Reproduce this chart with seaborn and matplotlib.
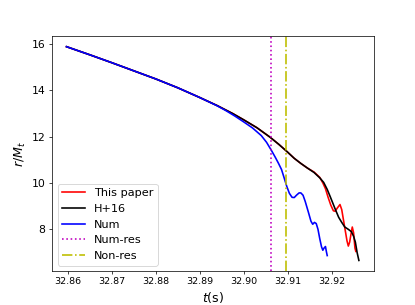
import seaborn as sns
import matplotlib.pyplot as plt

# DATA
# H+16 (black) curve
t_h16 = [32.8597, 32.8650, 32.8700, 32.8750, 32.8800, 32.8850, 32.8900, 32.8940,
         32.8975, 32.9000, 32.9030, 32.9060, 32.9080, 32.9098, 32.9115, 32.9130,
         32.9145, 32.9160, 32.9173, 32.9182, 32.9190, 32.9197, 32.9208, 32.9216,
         32.9223, 32.9230, 32.9238, 32.9245, 32.9250, 32.9254, 32.9258, 32.9262]
r_h16 = [15.87, 15.52, 15.18, 14.83, 14.48, 14.10, 13.68, 13.33,
         12.99, 12.72, 12.38, 11.97, 11.66, 11.36, 11.06, 10.84,
         10.64, 10.45, 10.22, 10.02, 9.72, 9.40, 8.88, 8.52,
         8.30, 8.10, 8.00, 7.90, 7.70, 7.45, 7.00, 6.66]

# This paper (red) - follows H+16 then wiggles
t_paper = [32.8597, 32.8650, 32.8700, 32.8750, 32.8800, 32.8850, 32.8900, 32.8940,
           32.8975, 32.9000, 32.9030, 32.9060, 32.9080, 32.9098, 32.9115, 32.9130,
           32.9145, 32.9160, 32.9173, 32.9180, 32.9186, 32.9192, 32.9198, 32.9204,
           32.9208, 32.9213, 32.9219, 32.9223, 32.9227, 32.9231, 32.9235, 32.9238,
           32.9241, 32.9245, 32.9247, 32.9250, 32.9253, 32.9255]
r_paper = [15.87, 15.52, 15.18, 14.83, 14.48, 14.10, 13.68, 13.33,
           12.99, 12.72, 12.38, 11.97, 11.66, 11.36, 11.06, 10.84,
           10.64, 10.47, 10.24, 10.00, 9.75, 9.38, 9.05, 8.80,
           8.78, 8.92, 9.07, 8.85, 8.40, 7.95, 7.50, 7.28,
           7.45, 7.90, 8.10, 7.85, 7.20, 7.05]

# Num (blue)
t_num = [32.8597, 32.8650, 32.8700, 32.8750, 32.8800, 32.8850, 32.8900, 32.8940,
         32.8960, 32.8980, 32.9000, 32.9020, 32.9040, 32.9052, 32.9064, 32.9072,
         32.9079, 32.9086, 32.9092, 32.9098, 32.9104, 32.9110, 32.9115, 32.9120,
         32.9126, 32.9130, 32.9135, 32.9140, 32.9147, 32.9153, 32.9157, 32.9161,
         32.9165, 32.9169, 32.9173, 32.9177, 32.9180, 32.9183, 32.9186, 32.9188,
         32.9190]
r_num = [15.87, 15.52, 15.18, 14.83, 14.48, 14.10, 13.68, 13.32,
         13.11, 12.88, 12.63, 12.37, 12.04, 11.75, 11.37, 11.10,
         10.85, 10.58, 10.22, 9.85, 9.55, 9.38, 9.37, 9.47,
         9.57, 9.57, 9.47, 9.20, 8.75, 8.35, 8.22, 8.30,
         8.25, 8.00, 7.60, 7.25, 7.10, 7.20, 7.26, 7.05,
         6.87]

# resonance times
t_num_res = 32.9062
t_non_res = 32.9097

# PLOT
fig, ax = plt.subplots(figsize=(415 / 65, 305 / 65), dpi=65)
sns.lineplot(x=t_paper, y=r_paper, color="r", label="This paper", ax=ax, linewidth=1.8)
sns.lineplot(x=t_h16, y=r_h16, color="k", label="H+16", ax=ax, linewidth=1.8)
sns.lineplot(x=t_num, y=r_num, color="b", label="Num", ax=ax, linewidth=1.8)
ax.axvline(t_num_res, color="m", linestyle=":", label="Num-res", linewidth=1.8)
ax.axvline(t_non_res, color="y", linestyle="-.", label="Non-res", linewidth=1.8)

ax.set_xticks([32.86, 32.87, 32.88, 32.89, 32.90, 32.91, 32.92])
ax.set_xticklabels(["32.86", "32.87", "32.88", "32.89", "32.90", "32.91", "32.92"])
ax.set_yticks([8, 10, 12, 14, 16])
ax.tick_params(axis="x", labelsize=10.5)
ax.tick_params(axis="y", labelsize=12)
ax.set_xlabel(r"$t$(s)", fontsize=14)
ax.set_ylabel(r"$r/M_t$", fontsize=14)
ax.legend(loc="lower left", fontsize=12.5)

fig.subplots_adjust(left=0.125, right=0.9, top=0.882, bottom=0.111)
fig.savefig("out.png", dpi=65)
